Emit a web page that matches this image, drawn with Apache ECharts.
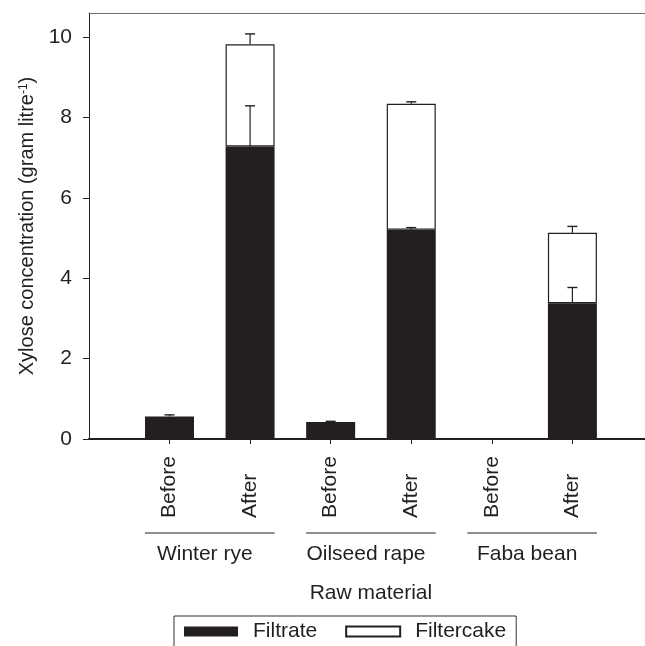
<!DOCTYPE html>
<html>
<head>
<meta charset="utf-8">
<script src="https://cdn.jsdelivr.net/npm/echarts@6/dist/echarts.min.js"></script>
<style>
html,body{margin:0;padding:0;background:#fff;}
#chart{width:645px;height:646px;}
</style>
</head>
<body>
<div id="chart"></div>
<script>
// ---- data ----
const categories = ['Before', 'After', 'Before', 'After', 'Before', 'After'];
const groups = ['Winter rye', 'Oilseed rape', 'Faba bean'];
const groupMembers = [[0, 1], [2, 3], [4, 5]];
const filtrate = [0.56, 7.28, 0.42, 5.21, 0, 3.38];
const filtrateErr = [0.04, 1.01, 0.02, 0.05, null, 0.39];
const filtercake = [null, 2.54, null, 3.13, null, 1.75];
const totalErr = [null, 0.26, null, 0.05, null, 0.16];
const yTickValues = [0, 2, 4, 6, 8, 10];

// ---- build ----
const DARK = '#231f20';
const FONT = 'Liberation Sans, Arial, sans-serif';
const cakeData = filtercake.map(v => (v == null ? '-' : v));
const errData = [];
filtrate.forEach((v, i) => {
  if (filtrateErr[i] != null) errData.push([i, v, v + filtrateErr[i]]);
});
filtrate.forEach((v, i) => {
  if (filtercake[i] != null && totalErr[i] != null) {
    const t = v + filtercake[i];
    errData.push([i, t, t + totalErr[i]]);
  }
});
const groupLineData = groupMembers.map(g => [g[0], g[1], 0]);

const YMAX = 10.6, BARW = 49;
const TOP = 13, BOTTOM = 207;

const chart = echarts.init(document.getElementById('chart'), null, {renderer: 'canvas'});
chart.setOption({
  animation: false,
  textStyle: {fontFamily: FONT, color: DARK},
  grid: [
    {left: 129.2, width: 483.5, top: TOP, bottom: BOTTOM, containLabel: false},
    {left: 89, right: 0, top: TOP, bottom: BOTTOM, containLabel: false}
  ],
  legend: {
    data: ['Filtrate', 'Filtercake'],
    left: 174, top: 616,
    itemWidth: 54, itemHeight: 10, itemGap: 28,
    icon: 'rect',
    borderColor: '#333', borderWidth: 1,
    padding: [5, 10, 30, 10],
    textStyle: {fontSize: 21, color: DARK, fontFamily: FONT, padding: [0, 0, 0, 10]}
  },
  xAxis: [
    {
      gridIndex: 0, type: 'category', data: categories, position: 'bottom',
      axisLine: {show: false},
      axisTick: {show: true, alignWithLabel: true, interval: 0, length: 5, lineStyle: {color: DARK, width: 1}},
      axisLabel: {
        interval: 0, rotate: 90, align: 'left', margin: 79,
        fontSize: 21, color: DARK, fontFamily: FONT
      },
      splitLine: {show: false},
      name: 'Raw material', nameLocation: 'middle', nameGap: 144,
      nameTextStyle: {fontSize: 21, color: DARK, fontFamily: FONT}
    },
    {
      gridIndex: 0, type: 'category', data: groups, position: 'bottom',
      axisLine: {show: false}, axisTick: {show: false}, splitLine: {show: false},
      axisLabel: {interval: 0, margin: 105, fontSize: 21, color: DARK, fontFamily: FONT, padding: [0, 10, 0, 0]}
    },
    {
      gridIndex: 1, type: 'value', min: 0, max: 1, position: 'bottom',
      axisLine: {show: true, onZero: false, lineStyle: {color: DARK, width: 2}},
      axisTick: {show: false}, axisLabel: {show: false}, splitLine: {show: false}
    },
    {
      gridIndex: 1, type: 'value', min: 0, max: 1, position: 'top',
      axisLine: {show: true, onZero: false, lineStyle: {color: '#6d6e71', width: 1}},
      axisTick: {show: false}, axisLabel: {show: false}, splitLine: {show: false}
    }
  ],
  yAxis: [
    {gridIndex: 0, type: 'value', min: 0, max: YMAX, show: false, splitLine: {show: false}},
    {
      gridIndex: 1, type: 'value', min: 0, max: YMAX,
      axisLine: {show: true, onZero: false, lineStyle: {color: DARK, width: 1}},
      axisTick: {show: true, customValues: yTickValues, length: 6, lineStyle: {color: DARK}},
      axisLabel: {customValues: yTickValues, margin: 17, fontSize: 21, color: DARK, fontFamily: FONT},
      splitLine: {show: false},
      name: 'Xylose concentration (gram litre{sup|-1})',
      nameLocation: 'middle', nameRotate: 90, nameGap: 50,
      nameTextStyle: {
        fontSize: 20, color: DARK, fontFamily: FONT,
        rich: {sup: {fontSize: 12, verticalAlign: 'top', color: DARK, fontFamily: FONT, padding: [0, 0, 8, 0]}}
      }
    }
  ],
  series: [
    {
      name: 'Filtrate', type: 'bar', stack: 'total', xAxisIndex: 0, yAxisIndex: 0,
      barWidth: BARW, data: filtrate,
      itemStyle: {color: DARK}
    },
    {
      name: 'Filtercake', type: 'bar', stack: 'total', xAxisIndex: 0, yAxisIndex: 0,
      barWidth: BARW, data: cakeData,
      itemStyle: {color: '#ffffff', borderColor: DARK, borderWidth: 1.2}
    },
    {
      name: 'err', type: 'custom', xAxisIndex: 0, yAxisIndex: 0, z: 5,
      data: errData, encode: {x: 0, y: [1, 2]},
      renderItem: function (params, api) {
        const x = api.value(0);
        const p0 = api.coord([x, api.value(1)]);
        const p1 = api.coord([x, api.value(2)]);
        return {
          type: 'group',
          children: [
            {type: 'line', shape: {x1: p0[0], y1: p0[1], x2: p1[0], y2: p1[1]}, style: {stroke: DARK, lineWidth: 1.2}},
            {type: 'line', shape: {x1: p1[0] - 5, y1: p1[1], x2: p1[0] + 5, y2: p1[1]}, style: {stroke: DARK, lineWidth: 1.4}}
          ]
        };
      }
    },
    {
      name: 'groupLines', type: 'custom', xAxisIndex: 0, yAxisIndex: 0, z: 5, clip: false,
      data: groupLineData, encode: {x: [0, 1], y: 2},
      renderItem: function (params, api) {
        const a = api.coord([api.value(0), api.value(2)]);
        const b = api.coord([api.value(1), api.value(2)]);
        const y = a[1] + 94;
        return {type: 'line', shape: {x1: a[0] - BARW / 2, y1: y, x2: b[0] + BARW / 2, y2: y}, style: {stroke: DARK, lineWidth: 1}};
      }
    }
  ]
});
</script>
</body>
</html>
